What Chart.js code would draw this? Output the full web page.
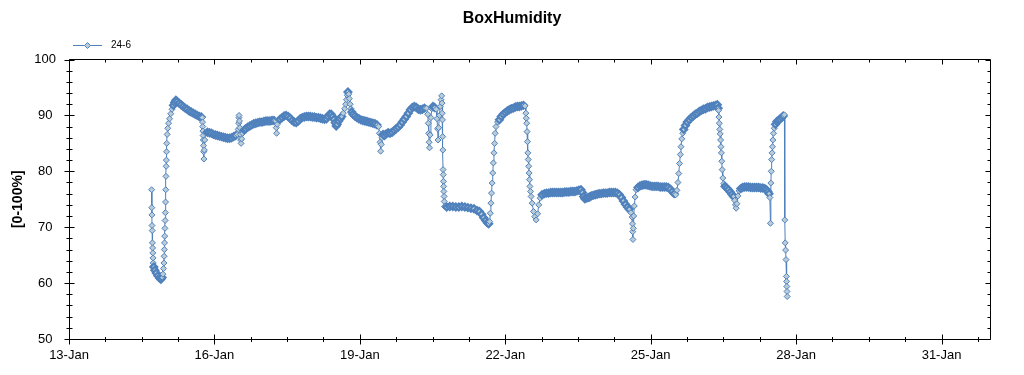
<!DOCTYPE html>
<html>
<head>
<meta charset="utf-8">
<title>BoxHumidity</title>
<script src="https://cdn.jsdelivr.net/npm/chart.js@4.4.1/dist/chart.umd.min.js"></script>
<style>
  html, body { margin: 0; padding: 0; background: #fff; }
  #wrap { position: relative; width: 1024px; height: 375px; }
</style>
</head>
<body>
<div id="wrap"><canvas id="chart"></canvas></div>
<script>
// hours since 13-Jan 00:00
const sampleHours = [
  40.9, 41.0, 41.05, 41.1, 41.2, 41.3, 41.4, 41.5, 41.6, 41.7,
  42.0, 42.5, 43.2, 44.0, 44.8, 45.5, 46.1, 46.5, 46.8, 47.0,
  47.1, 47.2, 47.3, 47.4, 47.5, 47.6, 47.7, 47.8, 47.9, 48.0,
  48.1, 48.2, 48.3, 48.4, 48.6, 48.9, 49.3, 49.8, 50.4, 51.0,
  51.7, 52.3, 52.9, 53.5, 54.5, 55.5, 56.5, 57.5, 58.5, 59.5,
  60.5, 61.5, 62.5, 63.5, 64.5, 65.5, 66.0, 66.1, 66.2, 66.3,
  66.4, 66.5, 66.6, 66.7, 66.8, 67.0, 67.2, 67.5, 68.5, 69.5,
  70.5, 71.5, 72.5, 73.5, 74.5, 75.5, 76.5, 77.5, 78.5, 79.5,
  80.5, 81.5, 82.5, 83.3, 83.8, 84.0, 84.1, 84.2, 84.4, 84.6,
  84.8, 85.0, 85.2, 85.5, 86.0, 86.8, 87.5, 88.5, 89.5, 90.5,
  91.5, 92.5, 93.5, 94.5, 95.5, 96.5, 97.5, 98.5, 99.5, 100.5,
  101.5, 102.3, 102.6, 102.8, 103.1, 103.6, 104.5, 105.5, 106.5, 107.5,
  108.5, 109.5, 110.5, 111.5, 112.5, 113.5, 114.5, 115.5, 116.5, 117.5,
  118.5, 119.5, 120.5, 121.5, 122.5, 123.5, 124.5, 125.5, 126.5, 127.5,
  128.3, 129.0, 129.8, 130.5, 131.2, 131.8, 132.3, 132.8, 133.5, 134.3,
  135.0, 135.8, 136.5, 137.0, 137.4, 137.8, 138.1, 138.5, 138.8, 139.2,
  139.6, 140.0, 140.6, 141.5, 142.5, 143.5, 144.5, 145.5, 146.5, 147.5,
  148.5, 149.5, 150.5, 151.5, 152.5, 153.3, 153.7, 154.0, 154.3, 154.6,
  155.0, 155.5, 156.2, 157.0, 158.0, 159.0, 160.0, 161.0, 162.0, 163.0,
  164.0, 165.0, 166.0, 167.0, 168.0, 169.0, 170.0, 171.0, 172.0, 173.0,
  174.0, 175.0, 176.0, 177.0, 177.6, 177.9, 178.1, 178.3, 178.5, 178.8,
  179.2, 179.6, 180.2, 181.0, 181.8, 182.2, 182.5, 182.7, 183.0, 183.4,
  183.8, 184.2, 184.5, 184.7, 184.8, 184.9, 185.0, 185.1, 185.2, 185.3,
  185.4, 185.5, 185.6, 185.7, 185.8, 186.0, 187.0, 188.5, 190.0, 191.5,
  193.0, 194.5, 196.0, 197.5, 199.0, 200.5, 202.0, 203.2, 204.3, 205.3,
  206.3, 207.1, 207.8, 208.3, 208.6, 208.9, 209.2, 209.5, 209.8, 210.1,
  210.4, 210.7, 211.0, 211.4, 212.2, 213.1, 214.0, 215.0, 216.0, 217.0,
  218.0, 219.0, 220.0, 221.0, 222.0, 223.0, 224.0, 225.0, 225.8, 226.2,
  226.4, 226.6, 226.8, 227.0, 227.2, 227.4, 227.6, 227.8, 228.0, 228.2,
  228.5, 228.8, 229.3, 230.0, 230.6, 231.3, 232.0, 232.6, 233.3, 234.2,
  235.4, 236.5, 237.5, 238.5, 239.5, 240.5, 241.5, 242.5, 243.5, 244.5,
  245.5, 246.5, 247.5, 248.5, 249.5, 250.5, 251.5, 252.5, 253.5, 254.2,
  254.8, 255.4, 256.2, 257.0, 257.8, 258.6, 259.5, 260.5, 261.5, 262.5,
  263.5, 264.5, 265.5, 266.5, 267.5, 268.5, 269.5, 270.5, 271.5, 272.5,
  273.5, 274.5, 275.5, 276.5, 277.4, 278.2, 278.8, 279.0, 279.1, 279.2,
  279.4, 279.6, 279.9, 280.3, 280.8, 281.7, 282.7, 283.7, 284.7, 285.7,
  286.7, 287.7, 288.7, 289.7, 290.7, 291.7, 292.7, 293.7, 294.7, 295.7,
  296.7, 297.7, 298.7, 299.6, 300.4, 301.0, 301.5, 301.9, 302.3, 302.7,
  303.0, 303.4, 303.9, 304.4, 305.2, 306.1, 307.1, 308.1, 309.1, 310.1,
  311.1, 312.1, 313.1, 314.1, 315.1, 316.1, 317.1, 318.1, 319.1, 320.1,
  321.0, 321.4, 321.6, 321.8, 322.0, 322.2, 322.4, 322.6, 322.8, 323.0,
  323.2, 323.4, 323.7, 324.2, 324.8, 325.6, 326.5, 327.4, 328.2, 329.0,
  329.6, 330.0, 330.3, 330.7, 331.2, 331.8, 332.6, 333.5, 334.5, 335.5,
  336.5, 337.5, 338.5, 339.5, 340.5, 341.5, 342.5, 343.5, 344.5, 345.3,
  346.0, 346.6, 347.0, 347.3, 347.5, 347.7, 347.9, 348.1, 348.3, 348.5,
  348.8, 349.2, 349.8, 350.5, 351.2, 352.0, 352.8, 353.6, 354.2, 354.4,
  354.6, 354.8, 355.0, 355.2, 355.3, 355.4, 355.5, 355.6
];

// sensor 24-6, relative humidity in %
const humidity = [
  76.7, 73.5, 72.2, 70.3, 69.4, 67.2, 66.3, 65.4, 64.5, 63.6,
  62.9, 62.3, 61.8, 61.3, 60.9, 60.7, 61.0, 61.6, 62.6, 63.6,
  64.8, 66.0, 67.2, 68.4, 69.8, 71.2, 72.6, 74.5, 76.7, 79.1,
  80.9, 82.0, 83.5, 85.0, 86.6, 87.7, 88.6, 89.4, 90.3, 91.1,
  91.8, 92.3, 92.7, 92.5, 92.2, 91.9, 91.6, 91.3, 91.1, 90.8,
  90.6, 90.4, 90.2, 90.0, 89.8, 89.7, 89.6, 88.8, 88.0, 87.2,
  86.4, 85.6, 84.6, 83.5, 82.2, 83.8, 85.6, 86.9, 87.0, 86.9,
  86.8, 86.6, 86.5, 86.4, 86.3, 86.2, 86.1, 86.0, 85.9, 85.9,
  86.0, 86.2, 86.4, 86.6, 87.5, 88.6, 89.6, 90.0, 89.0, 87.8,
  86.6, 85.6, 85.0, 85.8, 86.8, 87.4, 87.6, 87.9, 88.1, 88.3,
  88.5, 88.6, 88.7, 88.8, 88.8, 88.9, 89.0, 89.0, 89.0, 89.1,
  89.1, 89.0, 87.8, 86.8, 88.4, 89.2, 89.3, 89.6, 89.9, 90.0,
  89.8, 89.5, 89.1, 88.8, 88.7, 89.0, 89.4, 89.6, 89.7, 89.8,
  89.8, 89.8, 89.7, 89.7, 89.6, 89.6, 89.5, 89.4, 89.3, 89.4,
  89.8, 90.2, 90.2, 89.8, 89.3, 88.7, 88.1, 88.4, 89.0, 89.4,
  89.8, 90.4, 91.2, 92.0, 92.8, 93.6, 94.2, 93.8, 93.0, 92.0,
  91.2, 90.6, 90.2, 89.9, 89.6, 89.4, 89.2, 89.1, 89.0, 88.9,
  88.8, 88.7, 88.6, 88.5, 88.3, 88.0, 86.8, 85.2, 83.6, 84.8,
  86.0, 86.6, 86.4, 86.7, 86.9, 86.8, 87.0, 87.3, 87.6, 87.9,
  88.3, 88.8, 89.3, 89.8, 90.4, 91.0, 91.4, 91.6, 91.4, 91.1,
  91.0, 91.1, 91.3, 91.3, 90.2, 88.6, 86.8, 85.2, 84.2, 86.5,
  89.6, 91.2, 91.6, 91.4, 91.1, 89.4, 87.6, 85.6, 87.8, 90.0,
  91.6, 92.8, 93.5, 92.2, 90.4, 89.2, 86.2, 83.8, 80.3, 79.4,
  78.2, 77.3, 76.4, 75.5, 74.6, 73.7, 73.6, 73.7, 73.7, 73.6,
  73.6, 73.7, 73.6, 73.5, 73.4, 73.3, 73.0, 72.8, 72.3, 71.7,
  71.2, 70.8, 70.6, 71.0, 72.5, 74.3, 76.1, 77.9, 79.7, 81.5,
  83.3, 85.0, 86.8, 88.0, 88.8, 89.2, 89.8, 90.2, 90.5, 90.8,
  91.0, 91.2, 91.3, 91.5, 91.6, 91.6, 91.7, 91.8, 91.7, 90.4,
  89.5, 88.6, 87.1, 85.3, 83.3, 82.1, 80.9, 79.7, 78.5, 77.3,
  76.4, 75.5, 74.3, 72.8, 71.9, 71.3, 72.4, 74.0, 75.2, 75.8,
  76.0, 76.1, 76.1, 76.2, 76.2, 76.2, 76.2, 76.2, 76.2, 76.2,
  76.3, 76.3, 76.3, 76.4, 76.4, 76.4, 76.5, 76.6, 76.7, 76.2,
  75.5, 75.1, 75.2, 75.3, 75.4, 75.6, 75.7, 75.8, 75.9, 76.0,
  76.0, 76.1, 76.1, 76.1, 76.2, 76.2, 76.2, 76.2, 76.1, 75.8,
  75.3, 74.7, 74.1, 73.6, 73.2, 72.6, 71.8, 70.6, 69.2, 67.8,
  69.8, 72.0, 73.8, 75.4, 76.7, 77.1, 77.4, 77.5, 77.6, 77.6,
  77.5, 77.4, 77.3, 77.3, 77.3, 77.3, 77.2, 77.2, 77.2, 77.2,
  77.1, 76.8, 76.4, 76.0, 75.8, 76.6, 78.0, 79.6, 81.4, 83.0,
  84.4, 85.8, 86.8, 87.5, 88.2, 88.8, 89.2, 89.6, 89.9, 90.2,
  90.4, 90.7, 90.9, 91.1, 91.2, 91.4, 91.5, 91.6, 91.7, 91.8,
  91.9, 91.3, 90.9, 89.7, 88.6, 87.5, 86.7, 85.6, 84.4, 83.3,
  81.8, 80.3, 78.8, 77.8, 77.3, 77.0, 76.7, 76.3, 75.9, 75.5,
  74.8, 74.0, 73.4, 74.2, 75.6, 76.5, 76.9, 77.1, 77.2, 77.2,
  77.2, 77.1, 77.1, 77.1, 77.1, 77.1, 77.0, 77.0, 76.9, 76.7,
  76.4, 76.0, 75.3, 70.7, 77.9, 80.0, 82.1, 83.3, 84.4, 85.6,
  86.8, 87.7, 88.4, 88.9, 89.1, 89.3, 89.6, 89.9, 90.1, 71.3,
  67.2, 65.9, 64.2, 61.2, 60.3, 59.4, 58.5, 57.6
];

const seriesName = '24-6';
const xMajorHours = [0, 72, 144, 216, 288, 360, 432];
const dayLabels = ['13-Jan', '16-Jan', '19-Jan', '22-Jan', '25-Jan', '28-Jan', '31-Jan'];
const yTicks = [50, 60, 70, 80, 90, 100];

if (sampleHours.length !== humidity.length) console.error('length mismatch', sampleHours.length, humidity.length);

const LINE = '#4F81BD';
const FILL = '#BACCD8';
const FONT = "'Liberation Sans', Arial, sans-serif";

Chart.defaults.font.family = FONT;
Chart.defaults.color = '#000';

// the logger samples every few minutes, so where readings crowd together the
// overlapping marker outlines read as a solid band: give crowded markers a heavier outline
function crowded(c) {
  const i = c.dataIndex, ch = c.chart;
  const x = ch.scales.x, y = ch.scales.y;
  if (!x || !y) return false;
  const near = j => {
    if (j < 0 || j >= humidity.length) return false;
    const dx = x.getPixelForValue(sampleHours[j]) - x.getPixelForValue(sampleHours[i]);
    const dy = y.getPixelForValue(humidity[j]) - y.getPixelForValue(humidity[i]);
    return Math.hypot(dx, dy) < 4.3;
  };
  return near(i - 1) && near(i + 1);
}

// frame, inward/crossing tick marks (major + minor) and the legend
const frameTicks = {
  id: 'frameTicks',
  afterDraw(chart) {
    const { ctx, chartArea: a, scales: { x, y } } = chart;
    const L = Math.floor(a.left) + 0.5, R = Math.floor(a.right) + 0.5;
    const T = Math.floor(a.top) + 0.5, B = Math.floor(a.bottom) + 0.5;
    ctx.save();
    ctx.strokeStyle = '#000';
    ctx.lineWidth = 1;
    ctx.beginPath();
    ctx.rect(L, T, R - L, B - T);
    // x ticks: major every 3 days, minor every 18h
    for (let h = 0; h <= 456; h += 18) {
      const px = Math.round(x.getPixelForValue(h)) + 0.5;
      const major = h % 72 === 0;
      const len = major ? 5 : 2.5;
      ctx.moveTo(px, B - len); ctx.lineTo(px, B + len);
      ctx.moveTo(px, T); ctx.lineTo(px, T + (major ? 5 : 3));
    }
    // y ticks: major every 10, minor every 2
    for (let v = 50; v <= 100; v += 2) {
      const py = Math.round(y.getPixelForValue(v)) + 0.5;
      const major = v % 10 === 0;
      const len = major ? 5 : 3;
      ctx.moveTo(L - len, py); ctx.lineTo(L + len, py);
      ctx.moveTo(R, py); ctx.lineTo(R - (major ? 5 : 3), py);
    }
    ctx.stroke();

    // legend
    const ly = 45.5;
    ctx.strokeStyle = LINE;
    ctx.beginPath(); ctx.moveTo(73, ly); ctx.lineTo(102, ly); ctx.stroke();
    ctx.fillStyle = FILL;
    ctx.beginPath();
    ctx.moveTo(84.5, ly); ctx.lineTo(87.5, ly - 3); ctx.lineTo(90.5, ly); ctx.lineTo(87.5, ly + 3);
    ctx.closePath(); ctx.fill(); ctx.stroke();
    ctx.fillStyle = '#000';
    ctx.font = '10px ' + FONT;
    ctx.textBaseline = 'middle';
    ctx.fillText(seriesName, 111, ly);
    ctx.restore();
  }
};

new Chart(document.getElementById('chart'), {
  type: 'line',
  data: {
    datasets: [{
      label: seriesName,
      data: sampleHours.map((h, i) => ({ x: h, y: humidity[i] })),
      borderColor: LINE,
      borderWidth: 1,
      tension: 0,
      pointStyle: 'rectRot',
      pointRadius: c => crowded(c) ? 3.4 : 3,
      pointBorderWidth: c => crowded(c) ? 2.2 : 1,
      pointBackgroundColor: FILL,
      pointBorderColor: LINE,
    }],
  },
  options: {
    responsive: true,
    maintainAspectRatio: false,
    animation: false,
    layout: { padding: { left: 0, right: 0, top: 0, bottom: 0 } },
    plugins: {
      legend: { display: false },
      tooltip: { enabled: false },
      title: {
        display: true,
        text: 'BoxHumidity',
        color: '#000',
        font: { size: 16, weight: 'bold' },
        padding: { top: 9, bottom: 31.3 },
      },
    },
    scales: {
      x: {
        type: 'linear',
        min: 0,
        max: 456,
        afterBuildTicks: s => { s.ticks = xMajorHours.map(v => ({ value: v })); },
        afterFit: s => { s.height = 36; },
        grid: { display: false, drawTicks: false },
        border: { display: false },
        ticks: {
          autoSkip: false,
          maxRotation: 0,
          padding: 9,
          font: { size: 13 },
          callback: (v, i) => dayLabels[i],
        },
      },
      y: {
        min: 50,
        max: 100,
        afterBuildTicks: s => { s.ticks = yTicks.map(v => ({ value: v })); },
        afterFit: s => { s.width = 69; },
        grid: { display: false, drawTicks: false },
        border: { display: false },
        ticks: { padding: 13, crossAlign: 'center', font: { size: 13 } },
        title: {
          display: true,
          text: '[0-100%]',
          color: '#000',
          font: { size: 14, weight: 'bold' },
          padding: { top: 10 },
        },
      },
      // empty right-hand margin so the title centres on the whole canvas
      yRight: {
        position: 'right',
        min: 50,
        max: 100,
        afterFit: s => { s.width = 34; },
        grid: { display: false, drawTicks: false },
        border: { display: false },
        ticks: { display: false },
      },
    },
  },
  plugins: [frameTicks],
});
</script>
</body>
</html>
